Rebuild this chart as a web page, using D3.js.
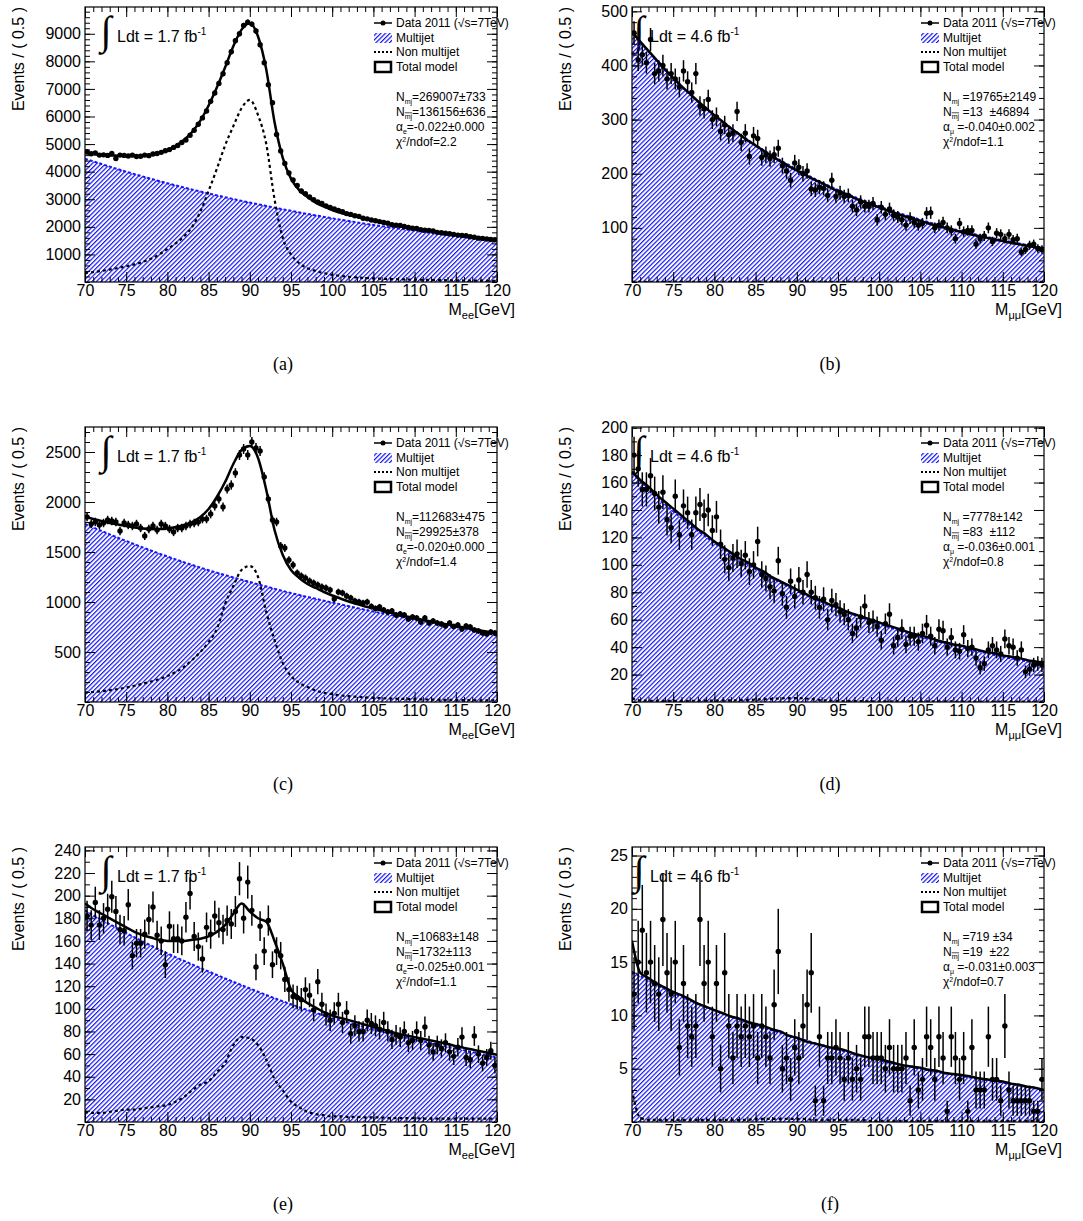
<!DOCTYPE html>
<html>
<head>
<meta charset="utf-8">
<script src="https://cdn.jsdelivr.net/npm/d3@7"></script>
<style>
  body { margin: 0; background: #fff; }
  svg { display: block; }
  text { font-family: "Liberation Sans", Arial, sans-serif; }
</style>
</head>
<body>
<script>
// bin centres of the data (GeV), model knots and background knots
var binCentres = [
  70.25,70.75,71.25,71.75,72.25,72.75,73.25,73.75,74.25,74.75,
  75.25,75.75,76.25,76.75,77.25,77.75,78.25,78.75,79.25,79.75,
  80.25,80.75,81.25,81.75,82.25,82.75,83.25,83.75,84.25,84.75,
  85.25,85.75,86.25,86.75,87.25,87.75,88.25,88.75,89.25,89.75,
  90.25,90.75,91.25,91.75,92.25,92.75,93.25,93.75,94.25,94.75,
  95.25,95.75,96.25,96.75,97.25,97.75,98.25,98.75,99.25,99.75,
  100.25,100.75,101.25,101.75,102.25,102.75,103.25,103.75,104.25,104.75,
  105.25,105.75,106.25,106.75,107.25,107.75,108.25,108.75,109.25,109.75,
  110.25,110.75,111.25,111.75,112.25,112.75,113.25,113.75,114.25,114.75,
  115.25,115.75,116.25,116.75,117.25,117.75,118.25,118.75,119.25,119.75];
var modelMass = [70,71,72,73,74,75,76,77,78,79,80,81,82,83,84,85,86,87,88,89,
  90,91,92,93,94,95,96,97,98,99,100,101,102,103,104,105,106,107,108,109,
  110,111,112,113,114,115,116,117,118,119,120];
var bkgMass = [70,75,80,85,90,95,100,105,110,115,120];
var xTickValues = [70,75,80,85,90,95,100,105,110,115,120];

// y tick labels of each panel
var yTicksA = [1000,2000,3000,4000,5000,6000,7000,8000,9000];
var yTicksB = [100,200,300,400,500];
var yTicksC = [500,1000,1500,2000,2500];
var yTicksD = [20,40,60,80,100,120,140,160,180,200];
var yTicksE = [20,40,60,80,100,120,140,160,180,200,220,240];
var yTicksF = [5,10,15,20,25];

// (a) electrons, 1.7 fb-1
var dataA = [4720,4650,4680,4600,4610,4590,4660,4480,4600,4590,
  4570,4600,4550,4560,4600,4580,4640,4660,4700,4760,
  4800,4880,4950,5060,5150,5320,5500,5720,5950,6200,
  6550,6850,7200,7550,7950,8350,8750,9000,9300,9420,
  9350,9100,8600,7950,7150,6500,5350,4750,4300,3950,
  3700,3500,3300,3200,3080,2980,2900,2850,2760,2700,
  2650,2590,2550,2480,2450,2400,2380,2310,2290,2250,
  2220,2190,2160,2130,2080,2060,2050,2010,1980,1950,
  1940,1900,1880,1870,1850,1800,1790,1770,1750,1720,
  1700,1690,1680,1640,1620,1590,1580,1560,1540,1530];
var totalA = [4680,4640,4610,4590,4580,4570,4570,4580,4620,4690,
  4790,4940,5150,5440,5850,6400,7050,7780,8550,9150,
  9380,8900,7700,5800,4500,3750,3330,3080,2880,2730,
  2610,2510,2430,2360,2290,2220,2160,2100,2040,1990,
  1940,1890,1850,1800,1760,1720,1680,1640,1600,1570,1530];
var nonMjA = [330,360,400,450,510,570,640,730,840,1000,
  1200,1400,1650,2000,2550,3300,4100,4950,5650,6300,
  6600,6050,5000,3000,1600,1000,680,500,400,320,
  260,220,190,165,145,130,118,108,100,92,
  85,79,73,68,63,59,55,51,48,45,42];
var multijetA = [4470,4000,3580,3210,2880,2580,2310,2070,1860,1660,1490];
var fitA = ["=269007±733", "=136156±636", "=-0.022±0.000", "2.2"];

// (b) muons, 4.6 fb-1
var dataB = [460,410,420,405,448,385,390,400,375,385,
  375,360,390,370,350,385,325,320,337,300,
  305,278,290,272,275,315,258,275,232,270,
  265,230,235,228,235,247,215,205,188,220,
  212,200,205,172,170,175,173,160,188,158,
  165,158,160,140,133,148,140,140,145,115,
  138,125,135,123,120,115,105,118,110,105,
  108,127,128,100,105,110,100,95,80,108,
  93,95,95,70,80,85,100,75,90,88,
  80,88,78,80,55,60,68,70,62,60];
var totalB = [463,444,427,410,393,377,362,348,334,321,
  308,296,284,273,262,252,242,232,223,214,
  206,198,190,183,175,168,162,155,149,143,
  138,132,127,122,117,113,108,104,100,96,
  92,88.5,85,82,78.5,75.5,72.5,69.5,67,64,61.5];
var nonMjB = [0.6,0.3,0.3,0.3,0.3,0.3,0.3,0.3,0.3,0.3,
  0.3,0.3,0.4,0.4,0.5,0.5,0.6,0.7,0.8,0.9,
  0.9,0.8,0.6,0.4,0.3,0.2,0.2,0.2,0.2,0.2,
  0.2,0.2,0.2,0.2,0.2,0.2,0.2,0.2,0.2,0.2,
  0.1,0.1,0.1,0.1,0.1,0.1,0.1,0.1,0.1,0.1,0.1];
var multijetB = [462,376,308,253,208,170,140,115,94,77,63];
var fitB = [" =19765±2149", " =13  ±46894", " =-0.040±0.002", "1.1"];

// (c) electrons, 1.7 fb-1
var dataC = [1850,1780,1800,1770,1790,1820,1810,1800,1710,1790,
  1770,1760,1780,1740,1660,1730,1760,1720,1780,1760,
  1730,1700,1740,1740,1760,1780,1790,1800,1830,1830,
  1880,1960,2030,1950,2130,2170,2290,2470,2530,2470,
  2600,2540,2510,2250,2030,1820,1800,1560,1540,1420,
  1370,1290,1260,1240,1210,1190,1170,1150,1140,1120,
  1030,1100,1090,1060,1040,1010,1000,990,1000,955,
  935,950,920,900,910,870,880,870,830,850,
  840,800,840,790,810,790,780,760,790,755,
  770,730,760,750,720,710,690,680,700,690];
var totalC = [1853,1830,1810,1790,1775,1760,1745,1735,1730,1730,
  1735,1750,1770,1800,1850,1930,2050,2200,2380,2520,
  2560,2440,2120,1720,1470,1320,1240,1180,1140,1100,
  1065,1035,1005,980,955,935,915,895,875,855,
  840,820,805,790,775,760,745,730,715,700,690];
var nonMjC = [95,100,108,118,130,145,162,182,205,230,
  260,300,350,420,500,600,730,980,1160,1320,
  1360,1250,900,620,390,260,190,150,115,92,
  78,66,58,52,46,42,38,35,32,30,
  28,26,24,22,21,20,19,18,17,16,15];
var multijetC = [1780,1610,1455,1318,1200,1090,995,905,825,750,665];
var fitC = ["=112683±475", "=29925±378", "=-0.020±0.000", "1.4"];

// (d) muons, 4.6 fb-1
var dataD = [180,170,155,155,165,152,142,153,133,127,
  150,122,143,138,122,138,144,136,140,125,
  135,115,104,98,105,108,101,107,95,100,
  117,93,90,84,81,103,79,69,88,77,
  89,80,93,80,76,69,75,60,74,71,
  66,64,60,50,54,62,70,58,59,55,
  45,57,64,41,47,53,42,48,48,44,
  50,56,48,41,53,52,40,47,38,37,
  49,39,40,32,25,28,38,41,38,35,
  46,41,40,32,38,22,24,27,28,27];
var totalD = [168,162,157,151,146,141,136,131,126,122,
  117,113,109,105,102,98,95,91,88,85,
  82,79,76,74,71,69,66,64,62,60,
  58,56,54,52,50,48.5,47,45,43.5,42,
  41,39.5,38,36.5,35.5,34,33,32,30.5,29.5,28.5];
var nonMjD = [2.5,1.2,0.9,0.8,0.8,0.8,0.8,0.9,0.9,1.0,
  1.0,1.1,1.2,1.3,1.5,1.7,2.0,2.3,2.6,2.8,
  2.9,2.6,2.0,1.4,1.0,0.8,0.7,0.6,0.6,0.5,
  0.5,0.5,0.5,0.4,0.4,0.4,0.4,0.4,0.4,0.4,
  0.3,0.3,0.3,0.3,0.3,0.3,0.3,0.3,0.3,0.3,0.3];
var multijetD = [167,139,116,97,81,68,57,47.5,40,33,27.5];
var fitD = [" =7778±142", " =83  ±112", " =-0.036±0.001", "0.8"];

// (e) electrons, 1.7 fb-1
var dataE = [182,174,194,174,180,188,199,186,170,169,
  192,147,158,158,166,179,190,165,160,139,
  173,162,162,160,181,202,164,155,144,172,
  166,182,176,170,178,175,186,215,180,212,
  187,137,173,151,178,139,151,147,126,117,
  111,110,108,117,112,99,124,104,95,90,
  96,104,88,97,78,85,80,80,90,87,
  85,82,88,80,73,77,75,80,70,72,
  80,72,84,68,62,68,65,70,62,58,
  66,75,57,55,76,60,52,57,63,50];
var totalE = [193,188,184,180,176,172,168,165,163,161,
  160,160,160,161,162,164,168,174,184,193,
  186,180,177,160,140,117,110,105,101,97,
  94,92,90,88,86,84,82,80,78,76.5,
  75,73.5,72,70.5,69,67,65.5,64,62.5,61,59.5];
var nonMjE = [9,8,8,9,10,11,11,12,13,14,
  15,18,22,28,33,36,44,52,68,75,
  74,68,55,38,28,18,13,9,7,6,
  5,5,4.5,4.5,4,4,4,3.5,3.5,3.5,
  3.5,3,3,3,3,3,3,3,3,3,3];
var multijetE = [187,167,149,133,118,104,92,82,73,65,57];
var fitE = ["=10683±148", "=1732±113", "=-0.025±0.001", "1.1"];

// (f) muons, 4.6 fb-1
var dataF = [12,15,18,14,15,13,12,19,14,12,
  15,7,13,9,8,9,19,13,15,8,
  13,5,14,9,6,9,8,9,8,9,
  6,9,8,6,11,16,5,6,4,7,
  6,9,11,14,2,8,2,6,6,7,
  6,4,6,4,5,4,8,8,6,6,
  6,5,7,5,5,5,6,2,7,3,
  4,8,7,4,8,6,1,8,6,4,
  6,1,7,3,3,3,8,4,4,2,
  9,3,2,2,2,2,2,1,1,4];
var totalF = [17,14,13.5,13,12.6,12.2,11.9,11.5,11.1,10.8,
  10.5,10.2,9.9,9.7,9.4,9.2,9.0,8.7,8.5,8.1,
  7.9,7.6,7.4,7.2,7.0,6.9,6.7,6.4,6.2,6.0,
  5.9,5.7,5.5,5.3,5.2,5.1,4.9,4.8,4.6,4.5,
  4.4,4.3,4.1,4.0,3.9,3.8,3.6,3.5,3.3,3.2,3.0];
var nonMjF = [3,0.4,0.2,0.2,0.2,0.2,0.2,0.2,0.2,0.2,
  0.2,0.2,0.2,0.2,0.2,0.3,0.3,0.3,0.3,0.3,
  0.3,0.3,0.2,0.2,0.2,0.2,0.2,0.2,0.2,0.1,
  0.1,0.1,0.1,0.1,0.1,0.1,0.1,0.1,0.1,0.1,
  0.1,0.1,0.1,0.1,0.1,0.1,0.1,0.1,0.1,0.1,0.1];
var multijetF = [14.1,12.1,10.5,9.1,7.9,6.8,5.8,5.0,4.3,3.7,3.0];
var fitF = [" =719 ±34", " =19  ±22", " =-0.031±0.003", "0.7"];

var legendLabels = ["Data 2011 (√s=7TeV)", "Multijet", "Non multijet", "Total model"];

var panels = [
  {name: "(a)", lepton: "ee", lumi: "1.7", yMax: 9970, yTicks: yTicksA, yMinor: 200,
   data: dataA, total: totalA, nonMj: nonMjA, multijet: multijetA, fit: fitA},
  {name: "(b)", lepton: "μμ", lumi: "4.6", yMax: 508, yTicks: yTicksB, yMinor: 20,
   data: dataB, total: totalB, nonMj: nonMjB, multijet: multijetB, fit: fitB},
  {name: "(c)", lepton: "ee", lumi: "1.7", yMax: 2750, yTicks: yTicksC, yMinor: 100,
   data: dataC, total: totalC, nonMj: nonMjC, multijet: multijetC, fit: fitC},
  {name: "(d)", lepton: "μμ", lumi: "4.6", yMax: 200.5, yTicks: yTicksD, yMinor: 10,
   data: dataD, total: totalD, nonMj: nonMjD, multijet: multijetD, fit: fitD},
  {name: "(e)", lepton: "ee", lumi: "1.7", yMax: 243, yTicks: yTicksE, yMinor: 10,
   data: dataE, total: totalE, nonMj: nonMjE, multijet: multijetE, fit: fitE},
  {name: "(f)", lepton: "μμ", lumi: "4.6", yMax: 25.8, yTicks: yTicksF, yMinor: 1,
   data: dataF, total: totalF, nonMj: nonMjF, multijet: multijetF, fit: fitF}
];

// page layout
var plotW = 412, plotH = 275;
var colLeft = [85, 632];
var rowTop = [7, 427, 847];
var blue = "#1414f5";

var svg = d3.select("body").append("svg")
  .attr("width", 1083)
  .attr("height", 1221);

var defs = svg.append("defs");
var hatch = defs.append("pattern")
  .attr("id", "hatch")
  .attr("patternUnits", "userSpaceOnUse")
  .attr("width", 3.2)
  .attr("height", 10)
  .attr("patternTransform", "rotate(45)");
hatch.append("rect").attr("width", 1.2).attr("height", 10).attr("fill", blue);

var xMinor = d3.range(70, 121, 1);

panels.forEach(function(p, i) {
  var left = colLeft[i % 2];
  var top = rowTop[Math.floor(i / 2)];
  var isEE = p.lepton === "ee";

  var x = d3.scaleLinear().domain([70, 120]).range([0, plotW]);
  var y = d3.scaleLinear().domain([0, p.yMax]).range([plotH, 0]);

  var g = svg.append("g").attr("transform", "translate(" + left + "," + top + ")");

  defs.append("clipPath").attr("id", "clip" + i)
    .append("rect").attr("width", plotW).attr("height", plotH);

  // luminosity label, drawn first so the data covers it
  g.append("text")
    .attr("x", isEE ? 21 : 7)
    .attr("y", 37)
    .attr("text-anchor", "middle")
    .attr("font-size", 40)
    .style("font-family", "'Liberation Serif', serif")
    .text("∫");
  var lumi = g.append("text")
    .attr("x", isEE ? 32 : 18)
    .attr("y", 35)
    .attr("font-size", 16);
  lumi.append("tspan").text("Ldt = " + p.lumi + " fb");
  lumi.append("tspan").attr("font-size", 10).attr("dy", -7).text("-1");

  var plot = g.append("g").attr("clip-path", "url(#clip" + i + ")");

  // multijet: hatched area with a dashed blue edge
  var mjArea = d3.area()
    .x(function(d, k) { return x(bkgMass[k]); })
    .y0(plotH)
    .y1(function(d) { return y(d); })
    .curve(d3.curveMonotoneX);
  var mjLine = d3.line()
    .x(function(d, k) { return x(bkgMass[k]); })
    .y(function(d) { return y(d); })
    .curve(d3.curveMonotoneX);
  plot.append("path").datum(p.multijet).attr("d", mjArea).attr("fill", "url(#hatch)");
  plot.append("path").datum(p.multijet).attr("d", mjLine)
    .attr("fill", "none").attr("stroke", blue).attr("stroke-width", 2)
    .attr("stroke-dasharray", "3,2");

  // non multijet template and total model
  var modelLine = d3.line()
    .x(function(d, k) { return x(modelMass[k]); })
    .y(function(d) { return y(d); })
    .curve(d3.curveMonotoneX);
  plot.append("path").datum(p.nonMj).attr("d", modelLine)
    .attr("fill", "none").attr("stroke", "#000").attr("stroke-width", 2.2)
    .attr("stroke-dasharray", "3,3");
  plot.append("path").datum(p.total).attr("d", modelLine)
    .attr("fill", "none").attr("stroke", "#000").attr("stroke-width", 2.5);

  // data points with poisson errors
  var pts = plot.selectAll("g.pt").data(p.data).enter().append("g").attr("class", "pt");
  pts.append("line")
    .attr("x1", function(d, k) { return x(binCentres[k]); })
    .attr("x2", function(d, k) { return x(binCentres[k]); })
    .attr("y1", function(d) { return y(d + Math.sqrt(d)); })
    .attr("y2", function(d) { return y(Math.max(d - Math.sqrt(d), 0)); })
    .attr("stroke", "#000").attr("stroke-width", 1.5);
  pts.append("line")
    .attr("x1", function(d, k) { return x(binCentres[k] - 0.25); })
    .attr("x2", function(d, k) { return x(binCentres[k] + 0.25); })
    .attr("y1", function(d) { return y(d); })
    .attr("y2", function(d) { return y(d); })
    .attr("stroke", "#000").attr("stroke-width", 1.5);
  pts.append("circle")
    .attr("cx", function(d, k) { return x(binCentres[k]); })
    .attr("cy", function(d) { return y(d); })
    .attr("r", 2.7)
    .attr("fill", "#000");

  // frame
  g.append("rect").attr("width", plotW).attr("height", plotH)
    .attr("fill", "none").attr("stroke", "#000").attr("stroke-width", 1.2);

  // ticks point into the frame on all four sides
  function tidy(sel) {
    sel.select(".domain").remove();
    sel.attr("font-size", 16).attr("font-family", null);
    sel.selectAll("line").attr("stroke-width", 1);
  }
  var yMinorVals = d3.range(0, p.yMax, p.yMinor);
  var fmt = d3.format("d");
  g.append("g").attr("transform", "translate(0," + plotH + ")")
    .call(d3.axisBottom(x).tickValues(xTickValues).tickFormat(fmt)
      .tickSizeInner(-10).tickSizeOuter(0).tickPadding(3))
    .call(tidy);
  g.append("g").attr("transform", "translate(0," + plotH + ")")
    .call(d3.axisBottom(x).tickValues(xMinor).tickSize(-5).tickFormat(""))
    .call(tidy);
  g.append("g")
    .call(d3.axisTop(x).tickValues(xTickValues).tickSize(-10).tickFormat(""))
    .call(tidy);
  g.append("g")
    .call(d3.axisTop(x).tickValues(xMinor).tickSize(-5).tickFormat(""))
    .call(tidy);
  g.append("g")
    .call(d3.axisLeft(y).tickValues(p.yTicks).tickFormat(fmt)
      .tickSizeInner(-10).tickSizeOuter(0).tickPadding(4))
    .call(tidy);
  g.append("g")
    .call(d3.axisLeft(y).tickValues(yMinorVals).tickSize(-5).tickFormat(""))
    .call(tidy);
  g.append("g").attr("transform", "translate(" + plotW + ",0)")
    .call(d3.axisRight(y).tickValues(p.yTicks).tickSize(-10).tickFormat(""))
    .call(tidy);
  g.append("g").attr("transform", "translate(" + plotW + ",0)")
    .call(d3.axisRight(y).tickValues(yMinorVals).tickSize(-5).tickFormat(""))
    .call(tidy);

  // axis titles
  g.append("text")
    .attr("transform", "translate(-67,0) rotate(-90)")
    .attr("text-anchor", "end")
    .attr("dy", "0.35em")
    .attr("font-size", 16)
    .text("Events / ( 0.5 )");
  var xt = g.append("text")
    .attr("x", plotW + 18)
    .attr("y", plotH + 33)
    .attr("text-anchor", "end")
    .attr("font-size", 16);
  xt.append("tspan").text("M");
  xt.append("tspan").attr("font-size", 11).attr("dy", 4).text(p.lepton);
  xt.append("tspan").attr("dy", -4).text("[GeV]");

  // legend
  var lx = plotW - 123, tx = plotW - 101;
  var rowsY = [16, 31, 45, 60];
  g.append("line").attr("x1", lx).attr("x2", lx + 18).attr("y1", rowsY[0]).attr("y2", rowsY[0])
    .attr("stroke", "#000").attr("stroke-width", 1.5);
  g.append("circle").attr("cx", lx + 9).attr("cy", rowsY[0]).attr("r", 2.5).attr("fill", "#000");
  g.append("rect").attr("x", lx).attr("y", rowsY[1] - 5).attr("width", 18).attr("height", 10)
    .attr("fill", "url(#hatch)");
  g.append("line").attr("x1", lx).attr("x2", lx + 18).attr("y1", rowsY[2]).attr("y2", rowsY[2])
    .attr("stroke", "#000").attr("stroke-width", 2).attr("stroke-dasharray", "2,2");
  g.append("rect").attr("x", lx + 1).attr("y", rowsY[3] - 5).attr("width", 16).attr("height", 10)
    .attr("fill", "#fff").attr("stroke", "#000").attr("stroke-width", 2.5);
  legendLabels.forEach(function(label, k) {
    g.append("text").attr("x", tx).attr("y", rowsY[k] + 4).attr("font-size", 12).text(label);
  });

  // fit results
  var fitY = [94, 109, 124, 139];
  function subLine(k, main, sub, over) {
    var t = g.append("text").attr("x", tx).attr("y", fitY[k]).attr("font-size", 12)
      .style("white-space", "pre");
    t.append("tspan").text(main);
    var s = t.append("tspan").attr("font-size", 7).attr("dy", 2.5).text(sub);
    if (over) s.style("text-decoration", "overline");
    t.append("tspan").attr("dy", -2.5).text(p.fit[k]);
  }
  subLine(0, "N", "mj", false);
  subLine(1, "N", "mj", true);
  subLine(2, "α", isEE ? "e" : "μ", false);
  var chi = g.append("text").attr("x", tx).attr("y", fitY[3]).attr("font-size", 12);
  chi.append("tspan").text("χ");
  chi.append("tspan").attr("font-size", 7).attr("dy", -4).text("2");
  chi.append("tspan").attr("dy", 4).text("/ndof=" + p.fit[3]);

  // sub-figure caption
  g.append("text")
    .attr("x", 198)
    .attr("y", 363)
    .attr("text-anchor", "middle")
    .attr("font-size", 18)
    .style("font-family", "'Liberation Serif', serif")
    .text(p.name);
});
</script>
</body>
</html>
